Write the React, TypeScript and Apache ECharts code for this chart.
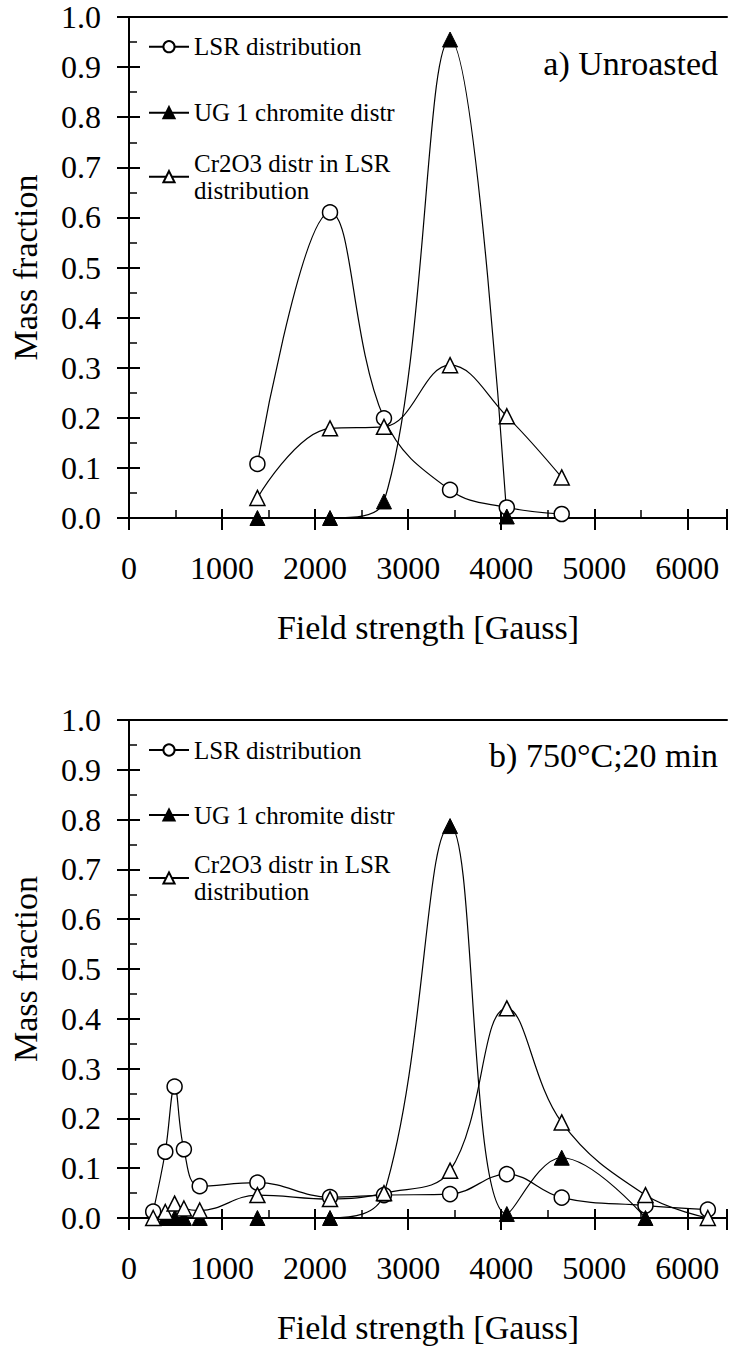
import React, { useEffect, useRef } from 'react';
import * as echarts from 'echarts';

// ---------- data ----------
const TOP_X = [1380, 2160, 2740, 3450, 4060, 4650];
const TOP_LSR = [0.108, 0.61, 0.199, 0.056, 0.021, 0.008];
const TOP_UG1_X = [1380, 2160, 2740, 3450, 4060];
const TOP_UG1 = [0, 0, 0.033, 0.955, 0.003];
const TOP_CR = [0.04, 0.179, 0.182, 0.305, 0.203, 0.081];

const BOT_X = [260, 390, 490, 590, 760, 1380, 2160, 2740, 3450, 4060, 4650, 5550, 6220];
const BOT_LSR = [0.013, 0.133, 0.264, 0.138, 0.064, 0.071, 0.042, 0.046, 0.048, 0.088, 0.041, 0.025, 0.017];
const BOT_UG1_X = [390, 490, 590, 760, 1380, 2160, 2740, 3450, 4060, 4650, 5550];
const BOT_UG1 = [0, 0, 0, 0, 0, 0, 0.049, 0.787, 0.008, 0.121, 0];
const BOT_CR = [0, 0.012, 0.029, 0.019, 0.015, 0.046, 0.038, 0.05, 0.095, 0.421, 0.192, 0.046, 0];

const SERIES_NAMES = ['LSR distribution', 'UG 1 chromite distr', 'Cr2O3 distr in LSR distribution'];
const PANEL_LABELS = ['a) Unroasted', 'b) 750°C;20 min'];
const X_TITLE = 'Field strength [Gauss]';
const Y_TITLE = 'Mass fraction';

// ---------- layout ----------
const FONT = "'Times New Roman', 'Liberation Serif', 'DejaVu Serif', serif";
const GRID_LEFT = 126;
const GRID_W = 604;
const X_MAX = 6426;
const GRIDS = [
  { top: 17, height: 501 },
  { top: 720, height: 498 },
];
const LEGEND_Y = [
  [46.7, 112.7, 176.7],
  [750, 815, 878],
];
const PANEL_Y = [63, 755];

const zip = (xs: number[], ys: number[]) => xs.map((x, i) => [x, ys[i]]);

function buildOption() {
  const grid: any[] = [];
  const xAxis: any[] = [];
  const yAxis: any[] = [];
  const series: any[] = [];
  const legend: any[] = [];
  const graphic: any[] = [];
  const black = '#000';

  const panels = [
    { lsr: zip(TOP_X, TOP_LSR), ug: zip(TOP_UG1_X, TOP_UG1), cr: zip(TOP_X, TOP_CR) },
    { lsr: zip(BOT_X, BOT_LSR), ug: zip(BOT_UG1_X, BOT_UG1), cr: zip(BOT_X, BOT_CR) },
  ];

  GRIDS.forEach((g, gi) => {
    grid.push({ left: GRID_LEFT, top: g.top, width: GRID_W, height: g.height, containLabel: false });
    const xBase = xAxis.length;
    const yBase = yAxis.length;
    xAxis.push({
      type: 'value', gridIndex: gi, position: 'bottom', min: 0, max: X_MAX, interval: 1000,
      name: X_TITLE, nameLocation: 'middle', nameGap: 92,
      nameTextStyle: { fontFamily: FONT, fontSize: 34, color: black },
      axisLine: { show: true, onZero: false, lineStyle: { color: black, width: 2 } },
      axisTick: { show: true, inside: false, length: 12, lineStyle: { color: black, width: 2 } },
      axisLabel: {
        show: true, margin: 34, fontFamily: FONT, fontSize: 32, color: black,
        formatter: (v: number) => (v % 1000 === 0 ? String(v) : ''),
      },
      splitLine: { show: false },
    });
    xAxis.push({
      type: 'value', gridIndex: gi, position: 'bottom', min: 0, max: X_MAX, interval: 1000,
      axisLine: { show: false, onZero: false },
      axisTick: { show: true, inside: true, length: 9, lineStyle: { color: black, width: 2 } },
      minorTick: { show: true, splitNumber: 2, length: 8, lineStyle: { color: black, width: 1.5 } },
      axisLabel: { show: false },
      splitLine: { show: false },
    });
    xAxis.push({
      type: 'value', gridIndex: gi, position: 'top', min: 0, max: X_MAX,
      axisLine: { show: true, onZero: false, lineStyle: { color: black, width: 2 } },
      axisTick: { show: false }, axisLabel: { show: false }, splitLine: { show: false },
    });
    yAxis.push({
      type: 'value', gridIndex: gi, position: 'left', min: 0, max: 1, interval: 0.1,
      name: Y_TITLE, nameLocation: 'middle', nameGap: 87, nameRotate: 90,
      nameTextStyle: { fontFamily: FONT, fontSize: 34, color: black },
      axisLine: { show: true, onZero: false, lineStyle: { color: black, width: 2 } },
      axisTick: { show: true, inside: false, length: 12, lineStyle: { color: black, width: 2 } },
      axisLabel: {
        show: true, margin: 28, fontFamily: FONT, fontSize: 32, color: black,
        formatter: (v: number) => v.toFixed(1),
      },
      splitLine: { show: false },
    });
    yAxis.push({
      type: 'value', gridIndex: gi, position: 'left', min: 0, max: 1, interval: 0.1,
      axisLine: { show: false, onZero: false },
      axisTick: { show: true, inside: true, length: 11, lineStyle: { color: black, width: 2 } },
      minorTick: { show: true, splitNumber: 2, length: 8, lineStyle: { color: black, width: 1.5 } },
      axisLabel: { show: false },
      splitLine: { show: false },
    });

    const p = panels[gi];
    const common = {
      type: 'line', xAxisIndex: xBase, yAxisIndex: yBase, smooth: 0.4,
      lineStyle: { color: black, width: 1.2 }, symbolSize: 15, z: 3,
    };
    series.push({
      ...common, name: SERIES_NAMES[0], data: p.lsr, symbol: 'circle',
      itemStyle: { color: '#fff', borderColor: black, borderWidth: 1.5 },
    });
    series.push({
      ...common, name: SERIES_NAMES[1], data: p.ug, symbol: 'triangle',
      itemStyle: { color: black, borderColor: black, borderWidth: 1 },
    });
    series.push({
      ...common, name: SERIES_NAMES[2], data: p.cr, symbol: 'triangle',
      itemStyle: { color: '#fff', borderColor: black, borderWidth: 1.5 },
    });

    const ly = LEGEND_Y[gi];
    SERIES_NAMES.forEach((nm, si) => {
      const multi = si === 2;
      legend.push({
        data: [nm], orient: 'vertical', left: 148,
        top: multi ? ly[si] - 40.5 : ly[si] - 13.5,
        padding: 0, itemWidth: 40, itemHeight: 14, itemGap: 0, selectedMode: false,
        formatter: multi ? () => 'Cr2O3 distr in LSR\ndistribution' : undefined,
        textStyle: {
          fontFamily: FONT, fontSize: 25, color: black, lineHeight: 27,
          padding: multi ? [27, 0, 0, 0] : 0,
        },
      });
    });

    graphic.push({
      type: 'text', x: 718, y: PANEL_Y[gi],
      style: {
        text: PANEL_LABELS[gi], fontFamily: FONT, fontSize: 34, fill: black,
        align: 'right', verticalAlign: 'middle',
      },
    });
  });

  return { animation: false, backgroundColor: '#fff', grid, xAxis, yAxis, series, legend, graphic };
}

export default function App() {
  const ref = useRef<HTMLDivElement>(null);
  useEffect(() => {
    if (!ref.current) return;
    const chart = echarts.init(ref.current, undefined, { renderer: 'svg' });
    chart.setOption(buildOption() as any);
    return () => chart.dispose();
  }, []);
  return (
    <div
      ref={ref}
      style={{ position: 'absolute', left: 0, top: 0, width: 730, height: 1348, background: '#fff' }}
    />
  );
}
